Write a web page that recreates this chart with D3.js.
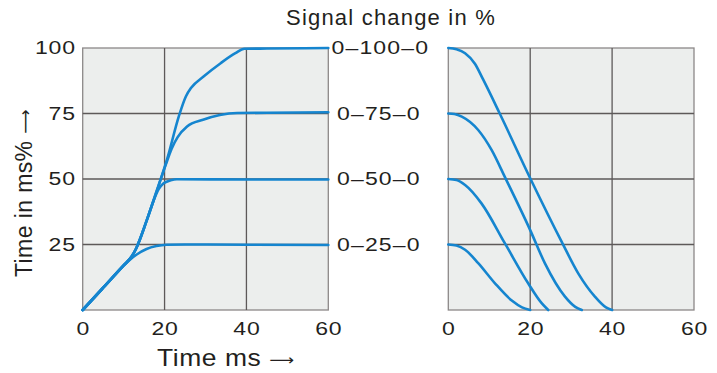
<!DOCTYPE html>
<html><head><meta charset="utf-8">
<script src="https://cdn.jsdelivr.net/npm/d3@7"></script>
<style>
body{margin:0;background:#fff;}
svg text{font-family:"Liberation Sans",Arial,sans-serif;fill:#231f20;}
</style></head>
<body><svg id="c" width="717" height="373"></svg>
<script>
// ---- data ----
const xTicks = [0, 20, 40, 60];
const yTicks = [25, 50, 75, 100];
const signalLabels = ["0–25–0", "0–50–0", "0–75–0", "0–100–0"];
const signalLevels = [25, 50, 75, 100];

// rise (left panel): [time ms, %]
const rise25 = [[0,0],[5,8.5],[10,17],[11.6,19.3],[13.2,21.2],[15.6,23.3],[18,24.4],[20.5,24.9],[25,25],[40,24.9],[60,24.8]];
const rise50 = [[0,0],[5,8.5],[10,17],[12,20.5],[13,23.3],[15.6,34],[17.5,42.5],[18.6,46.2],[19.7,48.3],[21.5,49.5],[23,49.9],[40,49.8],[60,49.8]];
const rise75 = [[0,0],[5,8.5],[10,17],[12,20.5],[13,23.3],[15.6,34],[18.1,45.5],[20.3,55.5],[21.7,61.5],[23.2,66],[25.5,70],[29.4,72.6],[33.5,74.4],[37.7,75.2],[45,75.3],[60,75.5]];
const rise100 = [[0,0],[5,8.5],[10,17],[12,20.5],[13,23.3],[15.6,34],[18.1,45.5],[20.7,58],[23.5,74],[25.2,81.5],[26.5,84.8],[29.6,89.2],[33.7,94.2],[37.3,98],[39.5,99.7],[45,99.8],[60,100]];

// fall (right panel): [time ms, %]
const fall25 = [[0,25],[2,24.6],[4.1,23],[7.3,17.9],[11.4,10.2],[15.5,3.6],[18,1],[20,0]];
const fall50 = [[0,50],[2,49.6],[4.1,47.7],[8.1,40.7],[13.8,25.5],[19.5,10.2],[22.8,2.6],[24.4,0]];
const fall75 = [[0,75],[1.5,74.8],[3.3,73.8],[7.3,68.7],[10.6,61],[13.8,50.8],[20,30.5],[23.6,17.8],[28.5,5.1],[31,1.2],[32.6,0]];
const fall100 = [[0,100],[2,99.5],[4.1,98],[6.5,94],[8.5,88],[12.5,75.2],[20,50.3],[27.7,26],[31.8,13.8],[35.8,5.1],[38.5,1],[40,0]];

const riseSeries = [rise25, rise50, rise75, rise100];
const fallSeries = [fall25, fall50, fall75, fall100];

// ---- layout ----
const svg = d3.select("#c");
const yTopPx = 48, yBotPx = 310;
const y = d3.scaleLinear().domain([0, 100]).range([yBotPx, yTopPx]);
const xL = d3.scaleLinear().domain([0, 60]).range([82.7, 328.3]);
const xR = d3.scaleLinear().domain([0, 60]).range([448.3, 694]);
const blue = "#1585cf";
const SX = 1.28; // horizontal stretch of numerals

function panel(x, series) {
  const g = svg.append("g");
  g.append("rect").attr("x", x(0)).attr("y", y(100))
    .attr("width", x(60) - x(0)).attr("height", y(0) - y(100))
    .attr("fill", "#eceeed").attr("stroke", "#8c8888").attr("stroke-width", 1.3);
  g.selectAll("line.v").data(xTicks.filter(d => d > 0 && d < 60)).join("line")
    .attr("x1", d => x(d)).attr("x2", d => x(d)).attr("y1", y(0)).attr("y2", y(100))
    .attr("stroke", "#5d5959").attr("stroke-width", 1.3);
  g.selectAll("line.h").data(yTicks.filter(d => d < 100)).join("line")
    .attr("x1", x(0)).attr("x2", x(60)).attr("y1", d => y(d)).attr("y2", d => y(d))
    .attr("stroke", "#5d5959").attr("stroke-width", 1.3);
  const line = d3.line().x(d => x(d[0])).y(d => y(d[1])).curve(d3.curveMonotoneX);
  g.selectAll("path.s").data(series).join("path")
    .attr("d", line).attr("fill", "none").attr("stroke", blue)
    .attr("stroke-width", 2.6).attr("stroke-linecap", "round");
  const ax = g.append("g").attr("transform", `translate(0,${yBotPx})`)
    .call(d3.axisBottom(x).tickValues(xTicks).tickSize(0).tickPadding(12));
  ax.select(".domain").remove();
  ax.selectAll("text").attr("font-size", 18).attr("letter-spacing", 0.6)
    .attr("transform", `scale(${SX},1)`)
    .attr("font-family", "Liberation Sans").attr("fill", "#231f20");
}

panel(xL, riseSeries);
panel(xR, fallSeries);

const ay = svg.append("g").attr("transform", `translate(${xL(0)},0)`)
  .call(d3.axisLeft(y).tickValues(yTicks).tickSize(0).tickPadding(0));
ay.select(".domain").remove();
ay.selectAll("text").attr("font-size", 18).attr("letter-spacing", 0.6)
  .attr("x", -7 / SX).attr("transform", `scale(${SX},1)`)
  .attr("font-family", "Liberation Sans").attr("fill", "#231f20");

svg.selectAll("text.sig").data(signalLevels).join("text")
  .attr("class", "sig")
  .attr("transform", d => `translate(${d === 100 ? 331.5 : 337},${y(d)}) scale(${SX},1)`)
  .attr("dy", "0.36em")
  .attr("font-size", 18).attr("letter-spacing", 0.9)
  .text((d, i) => signalLabels[i]);

svg.append("text").attr("x", 391).attr("y", 25).attr("text-anchor", "middle")
  .attr("font-size", 22).attr("letter-spacing", 1.2).text("Signal change in %");

const xl = svg.append("text").attr("transform", "translate(157,366) scale(1.15,1)")
  .attr("font-size", 23).attr("letter-spacing", 0.5);
xl.append("tspan").text("Time ms ");
xl.append("tspan").attr("font-family", "DejaVu Sans").attr("font-size", 15).attr("dy", -1).text("⟶");

const yl = svg.append("text").attr("transform", "translate(32,277) rotate(-90)")
  .attr("font-size", 23).attr("letter-spacing", 0.4);
yl.append("tspan").text("Time in ms% ");
yl.append("tspan").attr("font-family", "DejaVu Sans").attr("font-size", 17).attr("dy", -1).text("⟶");
</script></body></html>
